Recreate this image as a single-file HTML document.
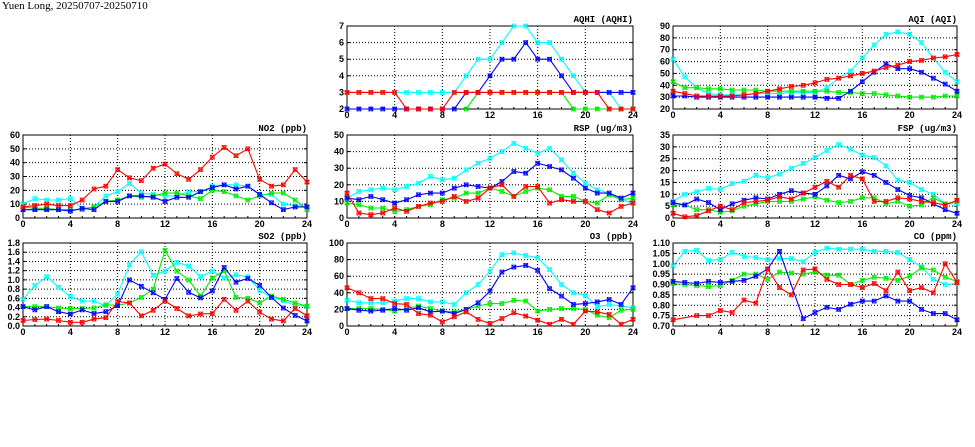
<!DOCTYPE html>
<html><head><meta charset="utf-8"><style>
html,body{margin:0;padding:0;background:#fff;width:975px;height:447px;overflow:hidden}
svg{display:block}
text{font-family:"Liberation Sans",sans-serif;font-weight:bold;font-size:9px;fill:#000}
.t{font-family:"Liberation Serif",serif;font-size:10px}
</style></head><body>
<svg id="s" width="975" height="447" xmlns="http://www.w3.org/2000/svg">
<text class="t" x="2" y="9" style="font-weight:normal;font-size:11px">Yuen Long, 20250707-20250710</text>
</svg>
<script>
const C={r:"#ff0000",g:"#00ee00",b:"#0000ff",c:"#00ffff"};
const N=null;
const P=[
{t:"AQHI (AQHI)",x:[347,633],y:[26,109],lo:2,hi:7,st:1,d:0,s:{
c:[3,3,3,3,3,3,3,3,3,3,4,5,5,6,7,7,6,6,5,4,3,3,3,2,2],
g:[N,N,N,N,N,N,N,N,N,N,2,3,3,3,3,3,3,3,3,2,2,2,2,2,2],
b:[2,2,2,2,2,2,2,2,2,2,3,3,4,5,5,6,5,5,4,3,3,3,3,3,3],
r:[3,3,3,3,3,2,2,2,2,3,3,3,3,3,3,3,3,3,3,3,3,3,2,2,2]}},
{t:"AQI (AQI)",x:[673,957],y:[26,109],lo:20,hi:90,st:10,d:0,s:{
c:[62,47,38,33,32,32,32,33,33,33,34,34,34,38,46,52,63,74,83,85,83,76,63,51,43],
g:[43,38,38,37,37,36,36,36,35,35,35,35,35,35,34,34,33,33,32,31,30,30,30,31,31],
b:[31,31,30,30,30,30,30,30,30,30,30,30,30,29,29,35,43,51,58,54,54,51,46,41,35],
r:[35,33,31,31,31,31,32,33,35,37,39,40,42,45,46,48,50,52,55,57,60,61,63,64,66]}},
{t:"NO2 (ppb)",x:[23,307],y:[135,218],lo:0,hi:60,st:10,d:0,s:{
c:[10,14,13,13,14,7,8,16,19,25,18,17,16,16,19,19,23,24,24,23,17,17,10,9,8],
g:[8,7,7,6,6,6,8,12,13,16,15,16,18,18,16,14,20,19,16,13,16,18,18,13,6],
b:[6,6,6,6,5,7,6,12,12,16,16,15,12,15,15,19,22,24,21,23,17,11,6,8,8],
r:[8,9,10,9,9,13,21,23,35,29,27,36,39,32,28,35,44,51,45,50,28,23,24,35,26]}},
{t:"RSP (ug/m3)",x:[347,633],y:[135,218],lo:0,hi:50,st:10,d:0,s:{
c:[12,16,17,18,17,19,21,25,23,24,29,33,36,40,45,42,39,42,35,27,21,17,15,11,9],
g:[9,8,6,6,4,5,7,8,11,12,15,15,18,16,13,16,18,17,13,13,10,9,14,11,12],
b:[12,11,13,11,9,11,14,15,15,18,20,19,18,22,28,27,33,31,29,24,18,15,15,12,15],
r:[15,3,2,3,6,4,7,9,10,13,10,12,18,20,13,19,19,9,11,10,10,5,3,7,9]}},
{t:"FSP (ug/m3)",x:[673,957],y:[135,218],lo:0,hi:35,st:5,d:0,s:{
c:[7,10,11,12.5,12,14.5,15.5,18,17,18.5,21,23,25.5,28.5,31,29,26.5,25.5,22,16,15,12,10,6,6],
g:[5.5,5.5,3.5,3.5,2.5,3,5,6,7,7,7,8,9,7.5,6.5,7,8.5,8.5,6,7,5,5.5,8.5,6,7],
b:[6.5,5.5,8,6.5,3.5,6,7.5,8.5,8,10,11.5,10.5,10,13.5,18,16.5,19.5,18,15,12,9.5,8.5,6,3.5,2],
r:[2,0.5,1,3,5,3.5,6.5,7,7.5,9,8,10.5,13,15.5,13,18,16.5,7,7,8.5,8,7,6.5,5.5,7.5]}},
{t:"SO2 (ppb)",x:[23,307],y:[243,326],lo:0,hi:1.8,st:0.2,d:1,s:{
c:[0.58,0.88,1.07,0.84,0.64,0.54,0.54,0.44,0.69,1.33,1.61,1.10,1.19,1.38,1.30,1.07,1.19,1.04,1.11,1.07,0.77,0.62,0.55,0.45,0.43],
g:[0.42,0.42,0.42,0.39,0.38,0.38,0.39,0.46,0.45,0.50,0.62,0.80,1.64,1.19,1.00,0.65,1.04,1.20,0.62,0.60,0.50,0.65,0.58,0.50,0.43],
b:[0.42,0.35,0.42,0.31,0.26,0.35,0.27,0.31,0.44,1.00,0.86,0.72,0.58,1.03,0.73,0.61,0.76,1.27,0.95,1.03,0.88,0.62,0.39,0.23,0.11],
r:[0.12,0.14,0.15,0.12,0.08,0.08,0.15,0.18,0.53,0.50,0.22,0.34,0.54,0.38,0.22,0.26,0.27,0.58,0.34,0.54,0.30,0.15,0.11,0.38,0.22]}},
{t:"O3 (ppb)",x:[347,633],y:[243,326],lo:0,hi:100,st:20,d:0,s:{
c:[31,28,28,28,30,33,33,29,29,26,40,50,66,86,88,85,82,68,50,40,37,23,26,24,22],
g:[21,21,21,20,18,21,24,21,18,17,20,24,27,27,31,30,18,20,21,21,20,13,10,19,20],
b:[21,19,18,19,21,19,22,17,18,15,20,28,42,65,71,73,67,45,36,26,27,29,32,26,46],
r:[46,40,33,33,27,26,15,13,5,11,17,8,3,9,16,12,7,2,8,2,18,17,14,2,8]}},
{t:"CO (ppm)",x:[673,957],y:[243,326],lo:0.7,hi:1.1,st:0.05,d:2,s:{
c:[0.99,1.06,1.065,1.015,1.02,1.055,1.035,1.03,1.02,1.025,1.025,1.01,1.055,1.075,1.07,1.07,1.07,1.06,1.06,1.055,1.02,0.985,0.925,0.90,0.905],
g:[0.905,0.90,0.895,0.89,0.895,0.92,0.95,0.95,0.925,0.96,0.955,0.95,0.96,0.945,0.945,0.90,0.92,0.935,0.93,0.92,0.94,0.98,0.97,0.935,0.915],
b:[0.915,0.91,0.905,0.915,0.91,0.915,0.92,0.94,0.975,1.06,N,0.735,0.765,0.79,0.78,0.805,0.82,0.82,0.845,0.82,0.82,0.78,0.76,0.76,0.73],
r:[0.73,N,0.75,0.75,0.775,0.765,0.825,0.81,0.975,0.885,0.85,0.97,0.975,0.925,0.90,0.90,0.885,0.905,0.87,0.96,0.87,0.885,0.86,1.00,0.91]}}
];
let h="";
for(const p of P){
 const [x0,x1]=p.x,[y0,y1]=p.y;
 const X=i=>x0+(x1-x0)*i/24, Y=v=>y1-(y1-y0)*(v-p.lo)/(p.hi-p.lo);
 const n=Math.round((p.hi-p.lo)/p.st);
 for(let k=0;k<=n;k++){const v=p.lo+k*p.st,y=Y(v);
  if(k>0&&k<n)h+=`<line x1="${x0}" y1="${y}" x2="${x1}" y2="${y}" stroke="#000" stroke-width="1" stroke-dasharray="1,2"/>`;
  h+=`<line x1="${x0}" y1="${y}" x2="${x0+3}" y2="${y}" stroke="#000"/><line x1="${x1}" y1="${y}" x2="${x1-3}" y2="${y}" stroke="#000"/>`;
  h+=`<text x="${x0-3}" y="${y+3}" text-anchor="end">${v.toFixed(p.d)}</text>`;}
 for(let i=0;i<=24;i+=4){const x=X(i);
  if(i>0&&i<24)h+=`<line x1="${x}" y1="${y0}" x2="${x}" y2="${y1}" stroke="#000" stroke-dasharray="1,2"/>`;
  h+=`<text x="${x}" y="${y1+9}" text-anchor="middle">${i}</text>`;}
 for(let i=0;i<=24;i++){const x=X(i);h+=`<line x1="${x}" y1="${y1}" x2="${x}" y2="${y1-2}" stroke="#000"/>`;}
 h+=`<rect x="${x0}" y="${y0}" width="${x1-x0}" height="${y1-y0}" fill="none" stroke="#000" stroke-width="1"/>`;
 h+=`<text x="${x1}" y="${y0-4}" text-anchor="end" style="font-family:'Liberation Mono',monospace">${p.t}</text>`;
 for(const k of ["c","g","b","r"]){const a=p.s[k],col=C[k];let d="",pen=false;
  a.forEach((v,i)=>{if(v===null)return;d+=(pen?"L":"M")+X(i).toFixed(1)+" "+Y(v).toFixed(1);pen=true;});
  h+=`<path d="${d}" fill="none" stroke="${col}" stroke-width="1.1"/>`;
  a.forEach((v,i)=>{if(v===null)return;const x=X(i),y=Y(v);
   h+=`<rect x="${x-2}" y="${y-2}" width="4" height="4" fill="${col}" fill-opacity="0.3" stroke="${col}" stroke-width="0.6"/><path d="M${x-2.2} ${y-2.2}L${x+2.2} ${y+2.2}M${x+2.2} ${y-2.2}L${x-2.2} ${y+2.2}" stroke="${col}" stroke-width="1"/>`;});
 }
}
document.getElementById("s").insertAdjacentHTML("beforeend",h);
</script>
</body></html>
